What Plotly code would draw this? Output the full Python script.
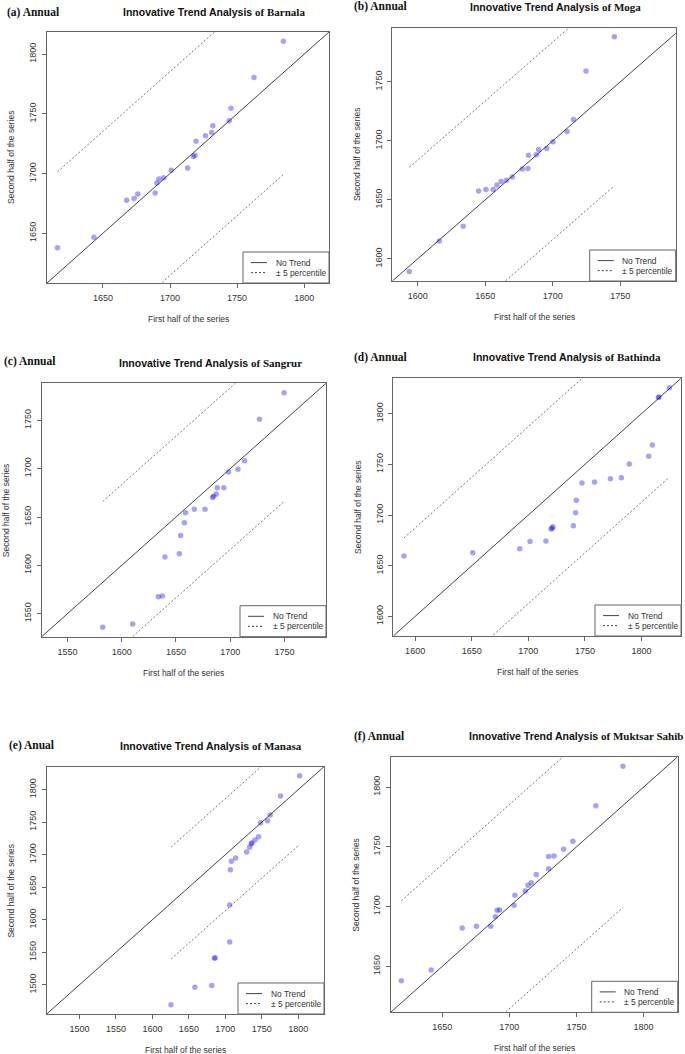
import plotly.graph_objects as go
import numpy as np

W, H = 685, 1054

panel_labels = ["(a) Annual", "(b) Annual", "(c) Annual", "(d) Annual", "(e) Anual", "(f) Annual"]
districts = ["Barnala", "Moga", "Sangrur", "Bathinda", "Manasa", "Muktsar Sahib"]
title_prefix = "Innovative Trend Analysis"
x_title = "First half of the series"
y_title = "Second half of the series"
legend_labels = ["No Trend", "\u00b1 5 percentile"]

barnala_first = [1616.1, 1643.3, 1667.7, 1673.2, 1676.0, 1688.9, 1690.2, 1691.7, 1695.2, 1700.9, 1713.1,
                 1717.4, 1718.6, 1719.4, 1726.4, 1731.1, 1731.9, 1744.1, 1745.4, 1762.6, 1784.5]
barnala_second = [1637.9, 1646.6, 1677.5, 1679.1, 1682.8, 1683.6, 1692.0, 1695.4, 1696.5, 1702.7, 1704.7,
                  1714.2, 1715.3, 1727.1, 1731.6, 1734.4, 1740.0, 1744.2, 1754.6, 1780.4, 1810.7]

moga_first = [1593.8, 1616.0, 1633.7, 1645.1, 1650.5, 1655.9, 1658.6, 1661.8, 1665.8, 1670.0, 1677.4,
              1681.6, 1682.0, 1687.7, 1689.5, 1695.6, 1700.2, 1710.6, 1715.3, 1724.6, 1745.6]
moga_second = [1589.2, 1615.0, 1627.5, 1657.4, 1658.8, 1658.8, 1662.5, 1665.6, 1666.5, 1669.4, 1676.2,
               1676.5, 1687.8, 1688.1, 1692.6, 1693.5, 1699.2, 1707.9, 1718.1, 1759.1, 1788.2]

sangrur_first = [1582.5, 1610.1, 1633.7, 1637.4, 1639.8, 1653.1, 1654.3, 1657.7, 1658.9, 1666.9, 1676.7,
                 1683.7, 1684.6, 1687.1, 1688.0, 1694.1, 1698.5, 1707.1, 1713.2, 1727.0, 1749.7]
sangrur_second = [1535.9, 1539.3, 1567.6, 1568.3, 1608.6, 1612.1, 1631.0, 1644.1, 1654.5, 1657.9, 1657.9,
                  1670.3, 1671.4, 1673.8, 1680.3, 1680.3, 1696.6, 1699.3, 1708.3, 1751.0, 1778.6]

bathinda_first = [1590.1, 1650.9, 1692.4, 1701.5, 1715.5, 1720.2, 1721.0, 1721.6, 1739.8, 1741.8, 1742.4,
                  1747.4, 1758.5, 1772.5, 1782.2, 1789.2, 1806.4, 1809.6, 1814.9, 1815.5, 1824.6]
bathinda_second = [1659.5, 1662.8, 1666.7, 1673.8, 1674.5, 1686.3, 1687.0, 1688.5, 1689.5, 1702.3, 1714.7,
                   1731.7, 1732.7, 1735.9, 1736.9, 1750.3, 1758.1, 1769.2, 1816.0, 1816.4, 1825.5]

manasa_first = [1625.5, 1658.2, 1681.4, 1685.0, 1685.9, 1705.9, 1705.9, 1706.8, 1708.2, 1714.1, 1729.2,
                1733.3, 1735.5, 1736.4, 1740.5, 1745.5, 1748.2, 1757.8, 1761.5, 1775.6, 1801.8]
manasa_second = [1469.2, 1496.4, 1499.0, 1541.3, 1541.3, 1565.9, 1622.6, 1676.9, 1689.7, 1694.9, 1704.1,
                 1711.3, 1716.9, 1718.0, 1722.6, 1727.7, 1749.0, 1752.1, 1760.8, 1790.3, 1821.1]

muktsar_first = [1619.5, 1641.8, 1664.9, 1675.5, 1686.2, 1689.6, 1690.9, 1692.8, 1703.5, 1704.2, 1711.9,
                 1713.9, 1716.4, 1720.1, 1729.3, 1729.3, 1733.3, 1740.5, 1747.4, 1764.5, 1784.7]
muktsar_second = [1638.1, 1647.0, 1682.1, 1683.7, 1683.7, 1691.5, 1697.0, 1697.2, 1701.1, 1709.6, 1713.2,
                  1717.9, 1720.1, 1727.0, 1731.7, 1742.0, 1742.3, 1748.1, 1754.7, 1784.5, 1817.6]

first_halves = [barnala_first, moga_first, sangrur_first, bathinda_first, manasa_first, muktsar_first]
second_halves = [barnala_second, moga_second, sangrur_second, bathinda_second, manasa_second, muktsar_second]

x_ranges = [[1608.3, 1818.5], [1581.2, 1791.0], [1526.2, 1788.3], [1580.7, 1834.9], [1455.1, 1835.2], [1611.6, 1825.5]]
y_ranges = [[1608.3, 1818.5], [1581.2, 1796.0], [1526.2, 1788.3], [1580.7, 1834.9], [1455.1, 1835.2], [1611.6, 1825.5]]
tick_values = [[1650, 1700, 1750, 1800], [1600, 1650, 1700, 1750], [1550, 1600, 1650, 1700, 1750],
               [1600, 1650, 1700, 1750, 1800], [1500, 1550, 1600, 1650, 1700, 1750, 1800], [1650, 1700, 1750, 1800]]

# plot-area boxes in pixels: left, right, top, bottom
boxes = [(47, 329, 32, 283), (392.3, 675.7, 27.5, 281), (41.7, 326, 383.3, 636.7),
         (393.3, 681, 378.3, 636), (46.7, 324, 766.7, 1014), (390.7, 677.7, 756.7, 1012.3)]
# header positions: (label_left_x, label_y, title_center_x, title_y)
headers = [(5, 12.3, 213.5, 12.3), (352, 6.5, 555.5, 7), (2, 361, 210.3, 363),
           (352.3, 357.3, 567, 357.3), (7.3, 745.7, 211, 746), (351.7, 736, 576.3, 736)]

SANS = "Liberation Sans, Arial, sans-serif"
SERIF = "Liberation Serif, Times New Roman, serif"
AX = "#666666"
TXT = "#333333"

def px(x):
    return x / W

def py(y):
    return 1 - y / H

fig = go.Figure()
shapes = []
annotations = []

for i in range(6):
    xs = np.array(first_halves[i])
    ys = np.array(second_halves[i])
    xr, yr = x_ranges[i], y_ranges[i]
    xref = "x" if i == 0 else f"x{i+1}"
    yref = "y" if i == 0 else f"y{i+1}"
    lo = min(xr[0], yr[0])
    hi = max(xr[1], yr[1])
    off = 0.05 * xs.mean()
    # 1:1 line
    fig.add_trace(go.Scatter(x=[lo, hi], y=[lo, hi], mode="lines", xaxis=xref, yaxis=yref,
                             line=dict(color="#444444", width=1), showlegend=False, hoverinfo="skip"))
    # +-5 percentile lines
    xl = np.array([xs.min(), xs.max()])
    fig.add_trace(go.Scatter(x=xl, y=xl + off, mode="lines", xaxis=xref, yaxis=yref,
                             line=dict(color="#777777", width=1, dash="2px,2px"), showlegend=False, hoverinfo="skip"))
    fig.add_trace(go.Scatter(x=xl, y=xl - off, mode="lines", xaxis=xref, yaxis=yref,
                             line=dict(color="#777777", width=1, dash="2px,2px"), showlegend=False, hoverinfo="skip"))
    # points
    fig.add_trace(go.Scatter(x=xs, y=ys, mode="markers", xaxis=xref, yaxis=yref,
                             marker=dict(color="rgba(0,0,255,0.36)", size=5.5, line=dict(width=0)),
                             showlegend=False, cliponaxis=True))

    l, r, t, b = boxes[i]
    axcommon = dict(showgrid=False, zeroline=False, showline=True, linecolor=AX, linewidth=1, mirror=True,
                    ticks="outside", ticklen=4, tickcolor=AX, tickwidth=1, tickvals=tick_values[i],
                    tickfont=dict(family=SANS, size=9, color=TXT), ticklabelstandoff=2)
    fig.layout["xaxis" if i == 0 else f"xaxis{i+1}"] = dict(domain=[px(l), px(r)], range=xr, anchor=yref, **axcommon)
    fig.layout["yaxis" if i == 0 else f"yaxis{i+1}"] = dict(domain=[py(b), py(t)], range=yr, anchor=xref,
                                                         tickangle=-90, **axcommon)

    # axis titles
    annotations.append(dict(x=px((l + r) / 2), y=py(b + 36), xref="paper", yref="paper", text=x_title,
                            showarrow=False, xanchor="center", yanchor="middle",
                            font=dict(family=SANS, size=8.5, color=TXT)))
    annotations.append(dict(x=px(l - 35.5), y=py((t + b) / 2), xref="paper", yref="paper", text=y_title,
                            showarrow=False, xanchor="center", yanchor="middle", textangle=-90,
                            font=dict(family=SANS, size=8.5, color=TXT)))

    # headers
    lx, ly, tx, ty = headers[i]
    annotations.append(dict(x=px(lx), y=py(ly), xref="paper", yref="paper", text=f"<b>{panel_labels[i]}</b>",
                            showarrow=False, xanchor="left", yanchor="middle",
                            font=dict(family=SERIF, size=11.5, color="#111111")))
    annotations.append(dict(x=px(tx), y=py(ty), xref="paper", yref="paper",
                            text=f"<b>{title_prefix} </b><span style='font-family:Liberation Serif, Times New Roman, serif;font-size:11px'><b>of {districts[i]}</b></span>",
                            showarrow=False, xanchor="center", yanchor="middle",
                            font=dict(family=SANS, size=10.5, color="#111111")))

    # legend box (bottom-right of the plot area)
    lg_w, lg_h = 86, 31
    lg_l = r - lg_w
    lg_t = b - lg_h
    shapes.append(dict(type="rect", xref="paper", yref="paper", x0=px(lg_l), x1=px(r), y0=py(b), y1=py(lg_t),
                       line=dict(color=AX, width=1), fillcolor="white", layer="above"))
    for k, dash in enumerate(["solid", "2px,2px"]):
        yy = lg_t + 10.6 + 10 * k
        shapes.append(dict(type="line", xref="paper", yref="paper", x0=px(lg_l + 8), x1=px(lg_l + 24),
                           y0=py(yy), y1=py(yy), line=dict(color="#444444", width=1, dash=dash), layer="above"))
        annotations.append(dict(x=px(lg_l + 30.5), y=py(yy), xref="paper", yref="paper", text=legend_labels[k],
                                showarrow=False, xanchor="left", yanchor="middle",
                                font=dict(family=SANS, size=8.4, color=TXT)))

fig.update_layout(width=W, height=H, margin=dict(l=0, r=0, t=0, b=0), paper_bgcolor="white",
                  plot_bgcolor="white", showlegend=False, shapes=shapes, annotations=annotations)

fig.write_html("out.html", config={"displayModeBar": False},
               post_script="document.body.style.margin='0';document.body.style.overflow='hidden';")
